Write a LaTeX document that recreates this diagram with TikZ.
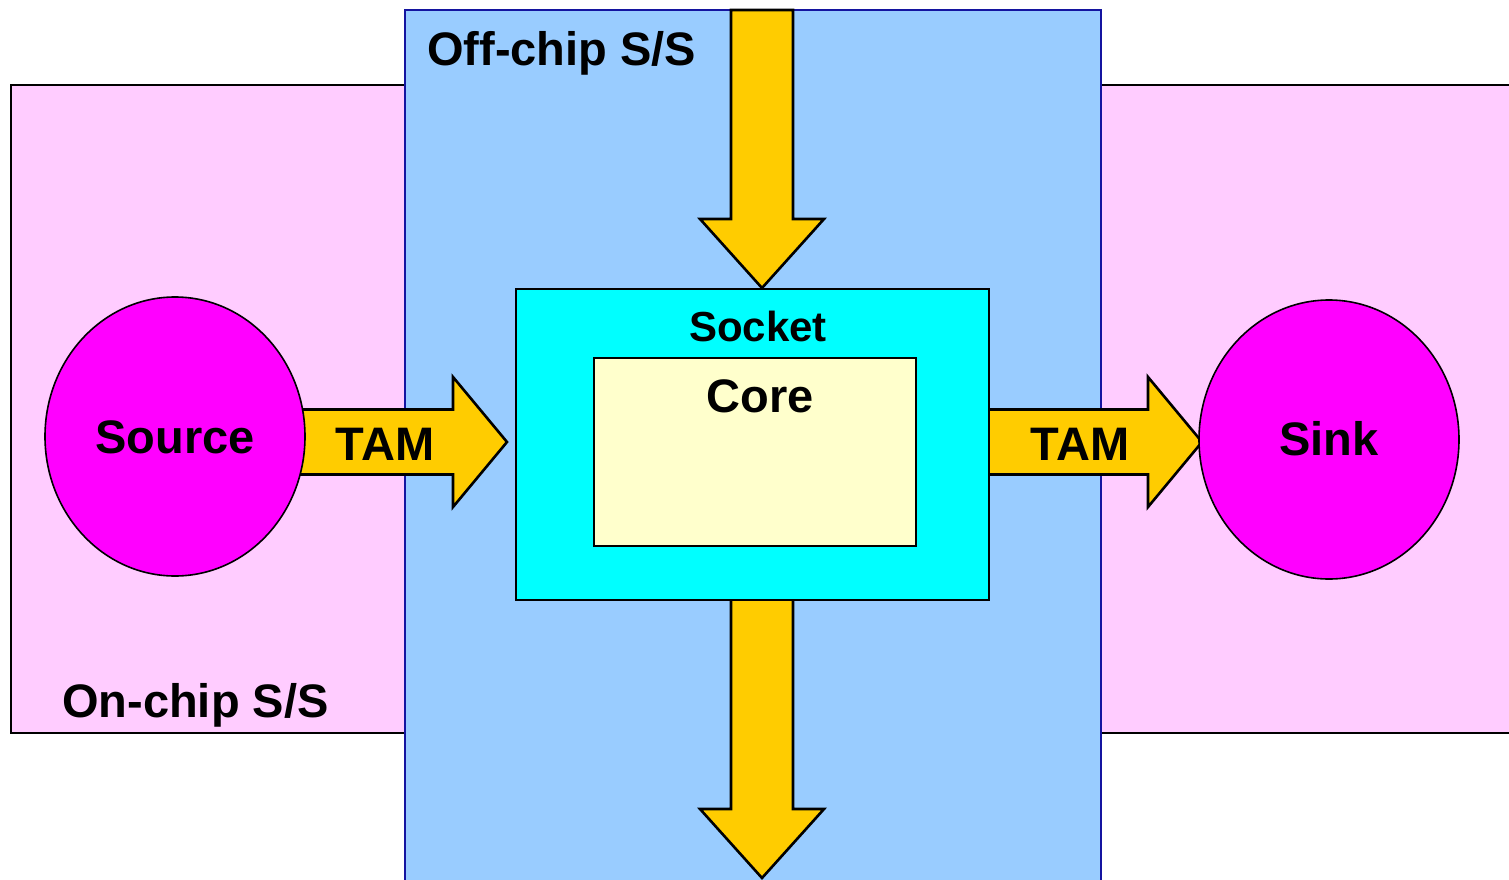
\documentclass[tikz,border=0pt]{standalone}
\usepackage{fontspec}
\setmainfont{Liberation Sans}
\usetikzlibrary{calc,shapes.geometric}
\definecolor{pinkbg}{HTML}{FFCCFF}
\definecolor{bluebg}{HTML}{99CCFF}
\definecolor{blueedge}{RGB}{20,20,160}
\definecolor{sockcol}{HTML}{00FFFF}
\definecolor{corecol}{HTML}{FFFFCC}
\definecolor{arrowcol}{HTML}{FFCC00}
\definecolor{ballcol}{HTML}{FF00FF}
\pgfdeclarelayer{regions}
\pgfdeclarelayer{arrowlayer}
\pgfsetlayers{regions,arrowlayer,main}
\tikzset{
  region/.style={anchor=north west,inner sep=0pt,outer sep=0pt,line width=1.8pt},
  boxnode/.style={anchor=north west,draw=black,inner sep=0pt,outer sep=0pt,line width=2.2pt},
  ball/.style={ellipse,draw=black,fill=ballcol,line width=1.6pt,inner sep=0pt,outer sep=0pt,minimum width=260pt,minimum height=279pt},
  blockarrow/.style={draw=black,fill=arrowcol,line width=2.6pt,line join=miter},
  bigtext/.style={font=\bfseries\fontsize{47}{56}\selectfont,inner sep=0pt},
  socktext/.style={font=\bfseries\fontsize{42}{50}\selectfont,inner sep=0pt}
}
\newcommand\harrowdraw[2]{%
  \draw[blockarrow] let \p1=(#1), \p2=(#2) in
    (\x1,\y2+32.5pt) -- (\x2-54pt,\y2+32.5pt) -- (\x2-54pt,\y2+65pt) -- (\x2,\y2)
    -- (\x2-54pt,\y2-65pt) -- (\x2-54pt,\y2-32.5pt) -- (\x1,\y2-32.5pt) -- cycle;}
\newcommand\varrowdraw[2]{%
  \draw[blockarrow] let \p1=(#1), \p2=(#2) in
    (\x2-31pt,\y1) -- (\x2-31pt,\y2+69pt) -- (\x2-62pt,\y2+69pt) -- (\x2,\y2)
    -- (\x2+62pt,\y2+69pt) -- (\x2+31pt,\y2+69pt) -- (\x2+31pt,\y1) -- cycle;}
\begin{document}
\begin{tikzpicture}[x=1pt,y=-1pt]
\useasboundingbox (0,0) rectangle (1509,880);
% regions
\begin{pgfonlayer}{regions}
\node[region,draw=black,fill=pinkbg,minimum width=1530pt,minimum height=648pt] (onchip) at (11,85) {};
\node[region,draw=blueedge,fill=bluebg,minimum width=696pt,minimum height=890pt] (offchip) at (405,10) {};
\end{pgfonlayer}
% socket, core, source and sink
\node[boxnode,fill=sockcol,minimum width=473pt,minimum height=311pt] (socket) at (516,289) {};
\node[boxnode,fill=corecol,minimum width=322pt,minimum height=188pt] (core) at (594,358) {};
\node[ball] (src) at (175,436.5) {};
\node[ball] (snk) at (1329,439.5) {};
% arrow end points
\coordinate (topin) at (762,10);
\coordinate (toptip) at (762,288);
\coordinate (bottip) at (762,878);
\coordinate (tamLtip) at (507,442);
\coordinate (tamRtip) at (1202,442);
% block arrows, beneath socket and balls
\begin{pgfonlayer}{arrowlayer}
\varrowdraw{topin}{toptip}
\varrowdraw{socket.center}{bottip}
\harrowdraw{src.center}{tamLtip}
\harrowdraw{socket.center}{tamRtip}
\end{pgfonlayer}
% texts
\node[bigtext,anchor=base west] (offlabel) at (427,66) {Off-chip S/S};
\node[bigtext,anchor=base west] (onlabel) at (62,717) {On-chip S/S};
\node[bigtext,anchor=base] (srclabel) at (175,453) {Source};
\node[bigtext,anchor=base] (snklabel) at (1329,455) {Sink};
\node[bigtext,anchor=base] (tamL) at (385,460) {TAM};
\node[bigtext,anchor=base] (tamR) at (1080,460) {TAM};
\node[socktext,anchor=base] (socklabel) at (758,341) {Socket};
\node[bigtext,anchor=base] (corelabel) at (760,412) {Core};
\end{tikzpicture}
\end{document}
